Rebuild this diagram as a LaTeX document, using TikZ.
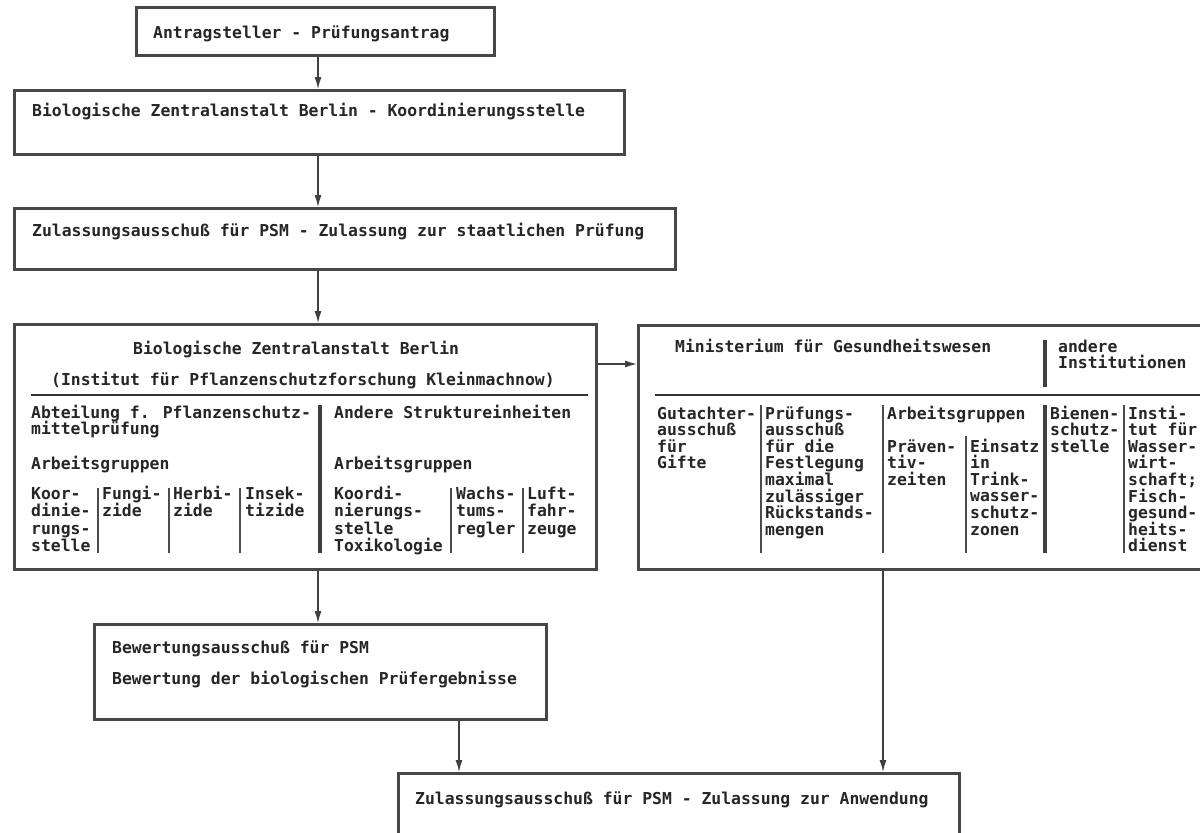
\documentclass[tikz,border=0pt]{standalone}
\usepackage{fontspec}
\newfontfamily\dm{DejaVu Sans Mono}
\usetikzlibrary{arrows.meta}
\newcommand{\stk}[2]{\vtop{\baselineskip=#1pt\lineskiplimit=-100pt\lineskip=0pt\halign{##\hfil\cr#2\crcr}}}
\tikzset{
  box/.style={draw=black!72, line width=3pt, inner sep=0pt, rectangle, anchor=north west},
  txt/.style={inner sep=0pt, anchor=base west, font=\dm\bfseries\fontsize{16.4}{17}\selectfont, text=black!85},
  arr/.style={draw=black!75, line width=1.3pt, -{Latex[length=12pt,width=7pt]}},
  thinline/.style={draw=black!70, line width=1.1pt},
  thickbar/.style={draw=black!75, line width=4pt},
  hline/.style={draw=black!80, line width=1.8pt}
}
\begin{document}
\begin{tikzpicture}[x=1pt,y=-1pt]
\useasboundingbox (0,0) rectangle (1200,833);
\clip (0,0) rectangle (1200,833);
\fill[white] (0,0) rectangle (1200,833);

% boxes
\node[box, minimum width=358pt, minimum height=48pt] (b1) at (135,6) {};
\node[box, minimum width=610pt, minimum height=64pt] (b2) at (13,89) {};
\node[box, minimum width=661pt, minimum height=61pt] (b3) at (13,207) {};
\node[box, minimum width=582pt, minimum height=245pt] (L) at (13,323) {};
\node[box, minimum width=578pt, minimum height=244pt] (R) at (637,324) {};
\node[box, minimum width=452pt, minimum height=95pt] (B) at (93,623) {};
\node[box, minimum width=561pt, minimum height=80pt] (Z) at (397,772) {};

% texts in simple boxes
\node[txt] (t1) at (153,38) {Antragsteller - Prüfungsantrag};
\node[txt] (t2) at (32,116) {Biologische Zentralanstalt Berlin - Koordinierungsstelle};
\node[txt] (t3) at (32,236) {Zulassungsausschuß für PSM - Zulassung zur staatlichen Prüfung};
\node[txt] (bt1) at (112,653) {Bewertungsausschuß für PSM};
\node[txt] (bt2) at (112,684) {Bewertung der biologischen Prüfergebnisse};
\node[txt] (zt) at (415,804) {Zulassungsausschuß für PSM - Zulassung zur Anwendung};

% left big box
\node[txt] (lt1) at (133,354) {Biologische Zentralanstalt Berlin};
\node[txt] (lt2) at (51,385) {(Institut für Pflanzenschutzforschung Kleinmachnow)};
\draw[hline] (31,395) -- (588,395);
\draw[thickbar] (320,405) -- (320,553);
\node[txt] (la) at (31,418) {\stk{16.5}{Abteilung f. Pflanzenschutz-\cr mittelprüfung}};
\node[txt] (lag) at (31,469) {Arbeitsgruppen};
\node[txt] (lb) at (334,418) {Andere Struktureinheiten};
\node[txt] (lbg) at (334,469) {Arbeitsgruppen};
\node[txt] (k1) at (31,499) {\stk{17.5}{Koor-\cr dinie-\cr rungs-\cr stelle}};
\node[txt] (k2) at (102,499) {\stk{17.5}{Fungi-\cr zide}};
\node[txt] (k3) at (173,499) {\stk{17.5}{Herbi-\cr zide}};
\node[txt] (k4) at (245,499) {\stk{17.5}{Insek-\cr tizide}};
\node[txt] (k5) at (334,499) {\stk{17.5}{Koordi-\cr nierungs-\cr stelle\cr Toxikologie}};
\node[txt] (k6) at (456,499) {\stk{17.5}{Wachs-\cr tums-\cr regler}};
\node[txt] (k7) at (527,499) {\stk{17.5}{Luft-\cr fahr-\cr zeuge}};
\foreach \xx in {98,169,240,451,523} \draw[thinline] (\xx,488) -- (\xx,553);

% right big box
\node[txt] (rt) at (675,352) {Ministerium für Gesundheitswesen};
\draw[thickbar] (1045,340) -- (1045,387);
\node[txt] (ra) at (1058,352) {\stk{16.5}{andere\cr Institutionen}};
\draw[hline] (655,395) -- (1215,395);
\node[txt] (r1) at (657,419) {\stk{16.6}{Gutachter-\cr ausschuß\cr für\cr Gifte}};
\node[txt] (r2) at (765,419) {\stk{16.6}{Prüfungs-\cr ausschuß\cr für die\cr Festlegung\cr maximal\cr zulässiger\cr Rückstands-\cr mengen}};
\node[txt] (r3) at (887,419) {Arbeitsgruppen};
\node[txt] (r3a) at (887,452) {\stk{16.6}{Präven-\cr tiv-\cr zeiten}};
\node[txt] (r3b) at (970,452) {\stk{16.6}{Einsatz\cr in\cr Trink-\cr wasser-\cr schutz-\cr zonen}};
\node[txt] (r4) at (1050,419) {\stk{16.6}{Bienen-\cr schutz-\cr stelle}};
\node[txt] (r5) at (1128,419) {\stk{16.6}{Insti-\cr tut für\cr Wasser-\cr wirt-\cr schaft;\cr Fisch-\cr gesund-\cr heits-\cr dienst}};
\foreach \xx in {761,883,1124} \draw[thinline] (\xx,405) -- (\xx,553);
\draw[thinline] (966,436) -- (966,553);
\draw[thickbar] (1045,405) -- (1045,553);

% connectors
\coordinate (xa) at (318,0);
\coordinate (xb) at (459,0);
\coordinate (xc) at (883,0);
\coordinate (ya) at (0,364);
\draw[arr] (b1.south -| xa) -- (b2.north -| xa);
\draw[arr] (b2.south -| xa) -- (b3.north -| xa);
\draw[arr] (b3.south -| xa) -- (L.north -| xa);
\draw[arr] (L.east |- ya) -- (R.west |- ya);
\draw[arr] (L.south -| xa) -- (B.north -| xa);
\draw[arr] (B.south -| xb) -- (Z.north -| xb);
\draw[arr] (R.south -| xc) -- (Z.north -| xc);
\end{tikzpicture}
\end{document}
